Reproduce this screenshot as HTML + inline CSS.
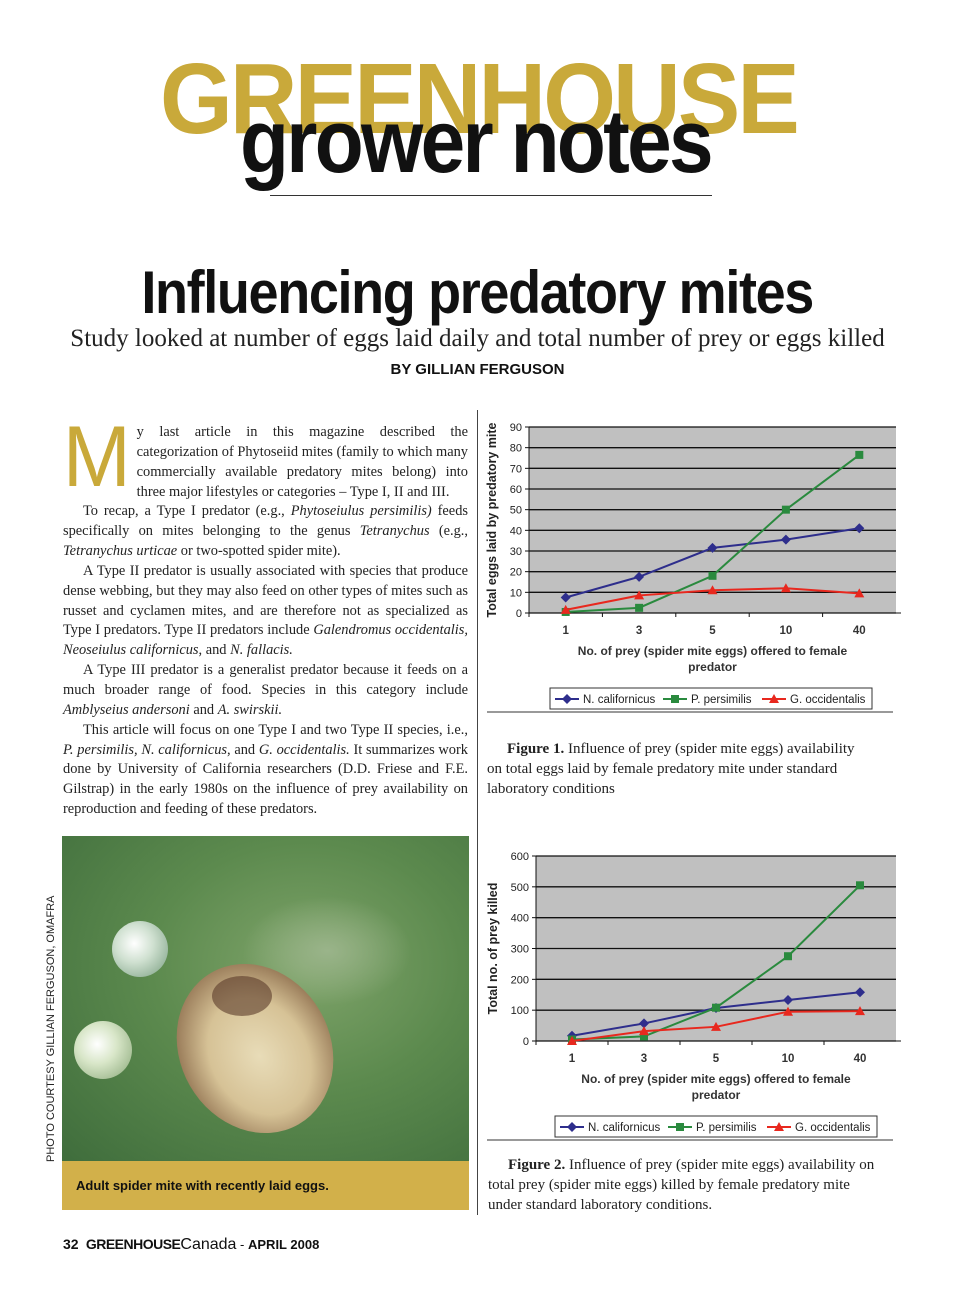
<!DOCTYPE html>
<html><head><meta charset="utf-8">
<style>
body{margin:0;background:#fff;}
#page{position:relative;width:960px;height:1301px;overflow:hidden;background:#fff;font-family:"Liberation Serif",serif;}
.abs{position:absolute;}
.body{position:absolute;left:63px;top:423px;width:405px;font-size:14.4px;line-height:19.85px;color:#222;text-align:justify;}
.body p{margin:0;text-indent:20px;}
.body p.first{text-indent:0;}
.drop{float:left;font-family:"Liberation Sans",sans-serif;font-size:86px;line-height:60px;color:#c9a93a;margin:4px 4px 0 -2px;height:58px;transform:scaleX(0.95);}
.cap{position:absolute;font-size:15px;line-height:19.85px;color:#222;white-space:nowrap;}
svg text{font-family:"Liberation Sans",sans-serif;}
</style></head><body>
<div id="page">
<div class="abs" style="left:160px;top:44px;font-family:'Liberation Sans',sans-serif;font-weight:bold;font-size:100px;color:#c9a93a;letter-spacing:-3px;transform:scaleX(0.935);transform-origin:left;line-height:110px;white-space:nowrap;">GREENHOUSE</div>
<div class="abs" style="left:240px;top:92px;font-family:'Liberation Sans',sans-serif;font-weight:bold;font-size:90px;color:#111;letter-spacing:-3px;line-height:100px;transform:scaleX(0.89);transform-origin:left;white-space:nowrap;">grower notes</div>
<div class="abs" style="left:270px;top:195px;width:442px;height:1px;background:#333;"></div>
<div class="abs" style="left:0;width:955px;top:258px;text-align:center;font-family:'Liberation Sans',sans-serif;font-weight:bold;font-size:60px;color:#111;letter-spacing:-1.5px;line-height:70px;"><span style="display:inline-block;transform:scaleX(0.9);">Influencing predatory mites</span></div>
<div class="abs" style="left:0;width:955px;top:324px;text-align:center;font-size:25px;color:#222;line-height:30px;">Study looked at number of eggs laid daily and total number of prey or eggs killed</div>
<div class="abs" style="left:0;width:955px;top:361px;text-align:center;font-family:'Liberation Sans',sans-serif;font-weight:bold;font-size:15px;color:#111;">BY GILLIAN FERGUSON</div>

<div class="body">
<p class="first"><span class="drop">M</span>y last article in this magazine described the categorization of Phytoseiid mites (family to which many commercially available predatory mites belong) into three major lifestyles or categories – Type I, II and III.</p>
<p>To recap, a Type I predator (e.g., <i>Phytoseiulus persimilis)</i> feeds specifically on mites belonging to the genus <i>Tetranychus</i> (e.g., <i>Tetranychus urticae</i> or two-spotted spider mite).</p>
<p>A Type II predator is usually associated with species that produce dense webbing, but they may also feed on other types of mites such as russet and cyclamen mites, and are therefore not as specialized as Type I predators. Type II predators include <i>Galendromus occidentalis, Neoseiulus californicus</i>, and <i>N. fallacis.</i></p>
<p>A Type III predator is a generalist predator because it feeds on a much broader range of food. Species in this category include <i>Amblyseius andersoni</i> and <i>A. swirskii.</i></p>
<p>This article will focus on one Type I and two Type II species, i.e., <i>P. persimilis, N. californicus</i>, and <i>G. occidentalis.</i> It summarizes work done by University of California researchers (D.D. Friese and F.E. Gilstrap) in the early 1980s on the influence of prey availability on reproduction and feeding of these predators.</p>
</div>

<div class="abs" style="left:477px;top:410px;width:1px;height:805px;background:#444;"></div>

<div class="abs" style="left:62px;top:836px;width:407px;height:325px;overflow:hidden;background:radial-gradient(ellipse at 60% 40%,#7fa46a 0%,#5c8a4e 45%,#3f6d3c 100%);">
 <div class="abs" style="left:180px;top:60px;width:170px;height:110px;border-radius:50%;background:radial-gradient(ellipse,#9ab48a,transparent 70%);"></div>
 <div class="abs" style="left:118px;top:125px;width:150px;height:175px;border-radius:50%;transform:rotate(-30deg);background:radial-gradient(ellipse at 50% 55%,#e8dcb8 0%,#d6c296 45%,#8a6a4a 80%,transparent 82%);"></div>
 <div class="abs" style="left:150px;top:140px;width:60px;height:40px;border-radius:50%;background:#5a3a2a;opacity:.6;"></div>
 <div class="abs" style="left:50px;top:85px;width:56px;height:56px;border-radius:50%;background:radial-gradient(circle at 40% 40%,#fff,#cfe0d0 40%,#9bb8a0 75%);"></div>
 <div class="abs" style="left:12px;top:185px;width:58px;height:58px;border-radius:50%;background:radial-gradient(circle at 40% 40%,#fff,#d8e6c8 40%,#a8c098 75%);"></div>
</div>
<div class="abs" style="left:62px;top:1161px;width:407px;height:49px;background:#d2b04a;font-family:'Liberation Sans',sans-serif;font-weight:bold;font-size:13px;color:#111;line-height:49px;box-sizing:border-box;padding-left:14px;">Adult spider mite with recently laid eggs.</div>
<div class="abs" style="left:45px;top:1162px;transform:rotate(-90deg);transform-origin:left top;font-family:'Liberation Sans',sans-serif;font-size:11px;color:#222;white-space:nowrap;width:265px;">PHOTO COURTESY GILLIAN FERGUSON, OMAFRA</div>

<div class="abs" style="left:63px;top:1236px;font-family:'Liberation Sans',sans-serif;font-size:13px;color:#111;white-space:nowrap;"><b style="font-size:14px">32</b>&nbsp;&nbsp;<b style="font-size:14px;letter-spacing:-0.5px">GREENHOUSE</b><span style="font-size:16px">Canada</span> - <b>APRIL 2008</b></div>

<svg class="abs" style="left:0;top:0" width="960" height="1301">
 <g id="c1"></g><g id="c2"></g>
</svg>

<div class="cap" style="left:507px;top:740px;"><b>Figure 1.</b> Influence of prey (spider mite eggs) availability</div>
<div class="cap" style="left:487px;top:760px;">on total eggs laid by female predatory mite under standard<br>laboratory conditions</div>
<div class="cap" style="left:508px;top:1156px;"><b>Figure 2.</b> Influence of prey (spider mite eggs) availability on</div>
<div class="cap" style="left:488px;top:1176px;">total prey (spider mite eggs) killed by female predatory mite<br>under standard laboratory conditions.</div>
</div>
<script>
const categories=["1","3","5","10","40"];
const seriesNames=["N. californicus","P. persimilis","G. occidentalis"];
const fig1N=[7.5,17.5,31.5,35.5,41];
const fig1P=[0.5,2.5,18,50,76.5];
const fig1G=[1.5,8.5,11,12,9.5];
const fig1Ticks=[0,10,20,30,40,50,60,70,80,90];
const fig2N=[17,57,107,133,158];
const fig2P=[5,15,108,275,505];
const fig2G=[0,32,46,95,97];
const fig2Ticks=[0,100,200,300,400,500,600];
const colors=["#2e2e8c","#2a8a3e","#e8281e"];
const NS="http://www.w3.org/2000/svg";
function mk(p,t,a){const e=document.createElementNS(NS,t);for(const k in a)e.setAttribute(k,a[k]);p.appendChild(e);return e;}
function chart(g,o){
 const x0=o.x0,x1=o.x1,yTop=o.yTop,yBot=o.yBot,max=o.ticks[o.ticks.length-1];
 const step=(x1-x0)/categories.length;
 const xs=i=>x0+step*(i+0.5);
 const ys=v=>yBot-(v/max)*(yBot-yTop);
 const bg=mk(g,'rect',{x:x0,y:yTop,width:x1-x0,height:yBot-yTop,fill:'#c0c0c0'});
 
 
 o.ticks.forEach(t=>{
  const y=ys(t);
  const l=mk(g,'line',{x1:x0,x2:x1,y1:y,y2:y,stroke:'#111','stroke-width':1.3});
  
  
  mk(g,'line',{x1:x0-4,x2:x0,y1:y,y2:y,stroke:'#111'});
  const tx=mk(g,'text',{x:x0-7,y:y+4,'text-anchor':'end','font-size':11,fill:'#222'});
  tx.textContent=t;
  
  
 });
 mk(g,'line',{x1:x0,x2:x0,y1:yTop,y2:yBot,stroke:'#111'});
 mk(g,'line',{x1:x0,x2:x1+5,y1:yBot,y2:yBot,stroke:'#111'});
 categories.forEach((c,i)=>{
  mk(g,'line',{x1:x0+step*i,x2:x0+step*i,y1:yBot,y2:yBot+4,stroke:'#111'});
  const tx=mk(g,'text',{x:xs(i),y:yBot+21,'text-anchor':'middle','font-size':11.5,'font-weight':'bold',fill:'#333'});
  tx.textContent=c;
  
  
 });
 const yt=mk(g,'text',{transform:`translate(${o.ytx},${(yTop+yBot)/2}) rotate(-90)`,'text-anchor':'middle','font-size':12.5,'font-weight':'bold',fill:'#222'});
 yt.textContent=o.ytitle;
 
 
 const xt=mk(g,'text',{x:(x0+x1)/2,y:yBot+42,'text-anchor':'middle','font-size':12,'font-weight':'bold',fill:'#333'});
 xt.textContent='No. of prey (spider mite eggs) offered to female';
 
 
 const xt2=mk(g,'text',{x:(x0+x1)/2,y:yBot+58,'text-anchor':'middle','font-size':12,'font-weight':'bold',fill:'#333'});
 xt2.textContent='predator';
 
 
 o.series.forEach((s,si)=>{
  const pts=s.map((v,i)=>xs(i)+','+ys(v)).join(' ');
  const pl=mk(g,'polyline',{points:pts,fill:'none',stroke:colors[si],'stroke-width':2});
  
  
  s.forEach((v,i)=>{const m=marker(g,si,xs(i),ys(v));
   
   });
 });
 const lg=mk(g,'g',{});
 
 
 mk(lg,'rect',{x:o.lx,y:o.ly,width:322,height:21,fill:'#fff',stroke:'#333'});
 const offs=[5,113,212];
 seriesNames.forEach((n,si)=>{
  const bx=o.lx+offs[si];const cy=o.ly+11;
  mk(lg,'line',{x1:bx,x2:bx+24,y1:cy,y2:cy,stroke:colors[si],'stroke-width':2});
  marker(lg,si,bx+12,cy);
  const t=mk(lg,'text',{x:bx+28,y:cy+4,'font-size':11.5,fill:'#222'});
  t.textContent=n;
  
  
 });
 mk(g,'line',{x1:487,x2:893,y1:o.ly+24,y2:o.ly+24,stroke:'#333'});
}
function marker(g,si,x,y){
 if(si===0)return mk(g,'polygon',{points:`${x},${y-5} ${x+5},${y} ${x},${y+5} ${x-5},${y}`,fill:colors[0]});
 if(si===1)return mk(g,'rect',{x:x-4,y:y-4,width:8,height:8,fill:colors[1]});
 return mk(g,'polygon',{points:`${x},${y-5} ${x+5},${y+4} ${x-5},${y+4}`,fill:colors[2]});
}
chart(document.getElementById('c1'),{x0:529,x1:896,yTop:427,yBot:613,ticks:fig1Ticks,series:[fig1N,fig1P,fig1G],ytitle:'Total eggs laid by predatory mite',ytx:496,lx:550,ly:688});
chart(document.getElementById('c2'),{x0:536,x1:896,yTop:856,yBot:1041,ticks:fig2Ticks,series:[fig2N,fig2P,fig2G],ytitle:'Total no. of prey killed',ytx:497,lx:555,ly:1116});
</script>
</body></html>
